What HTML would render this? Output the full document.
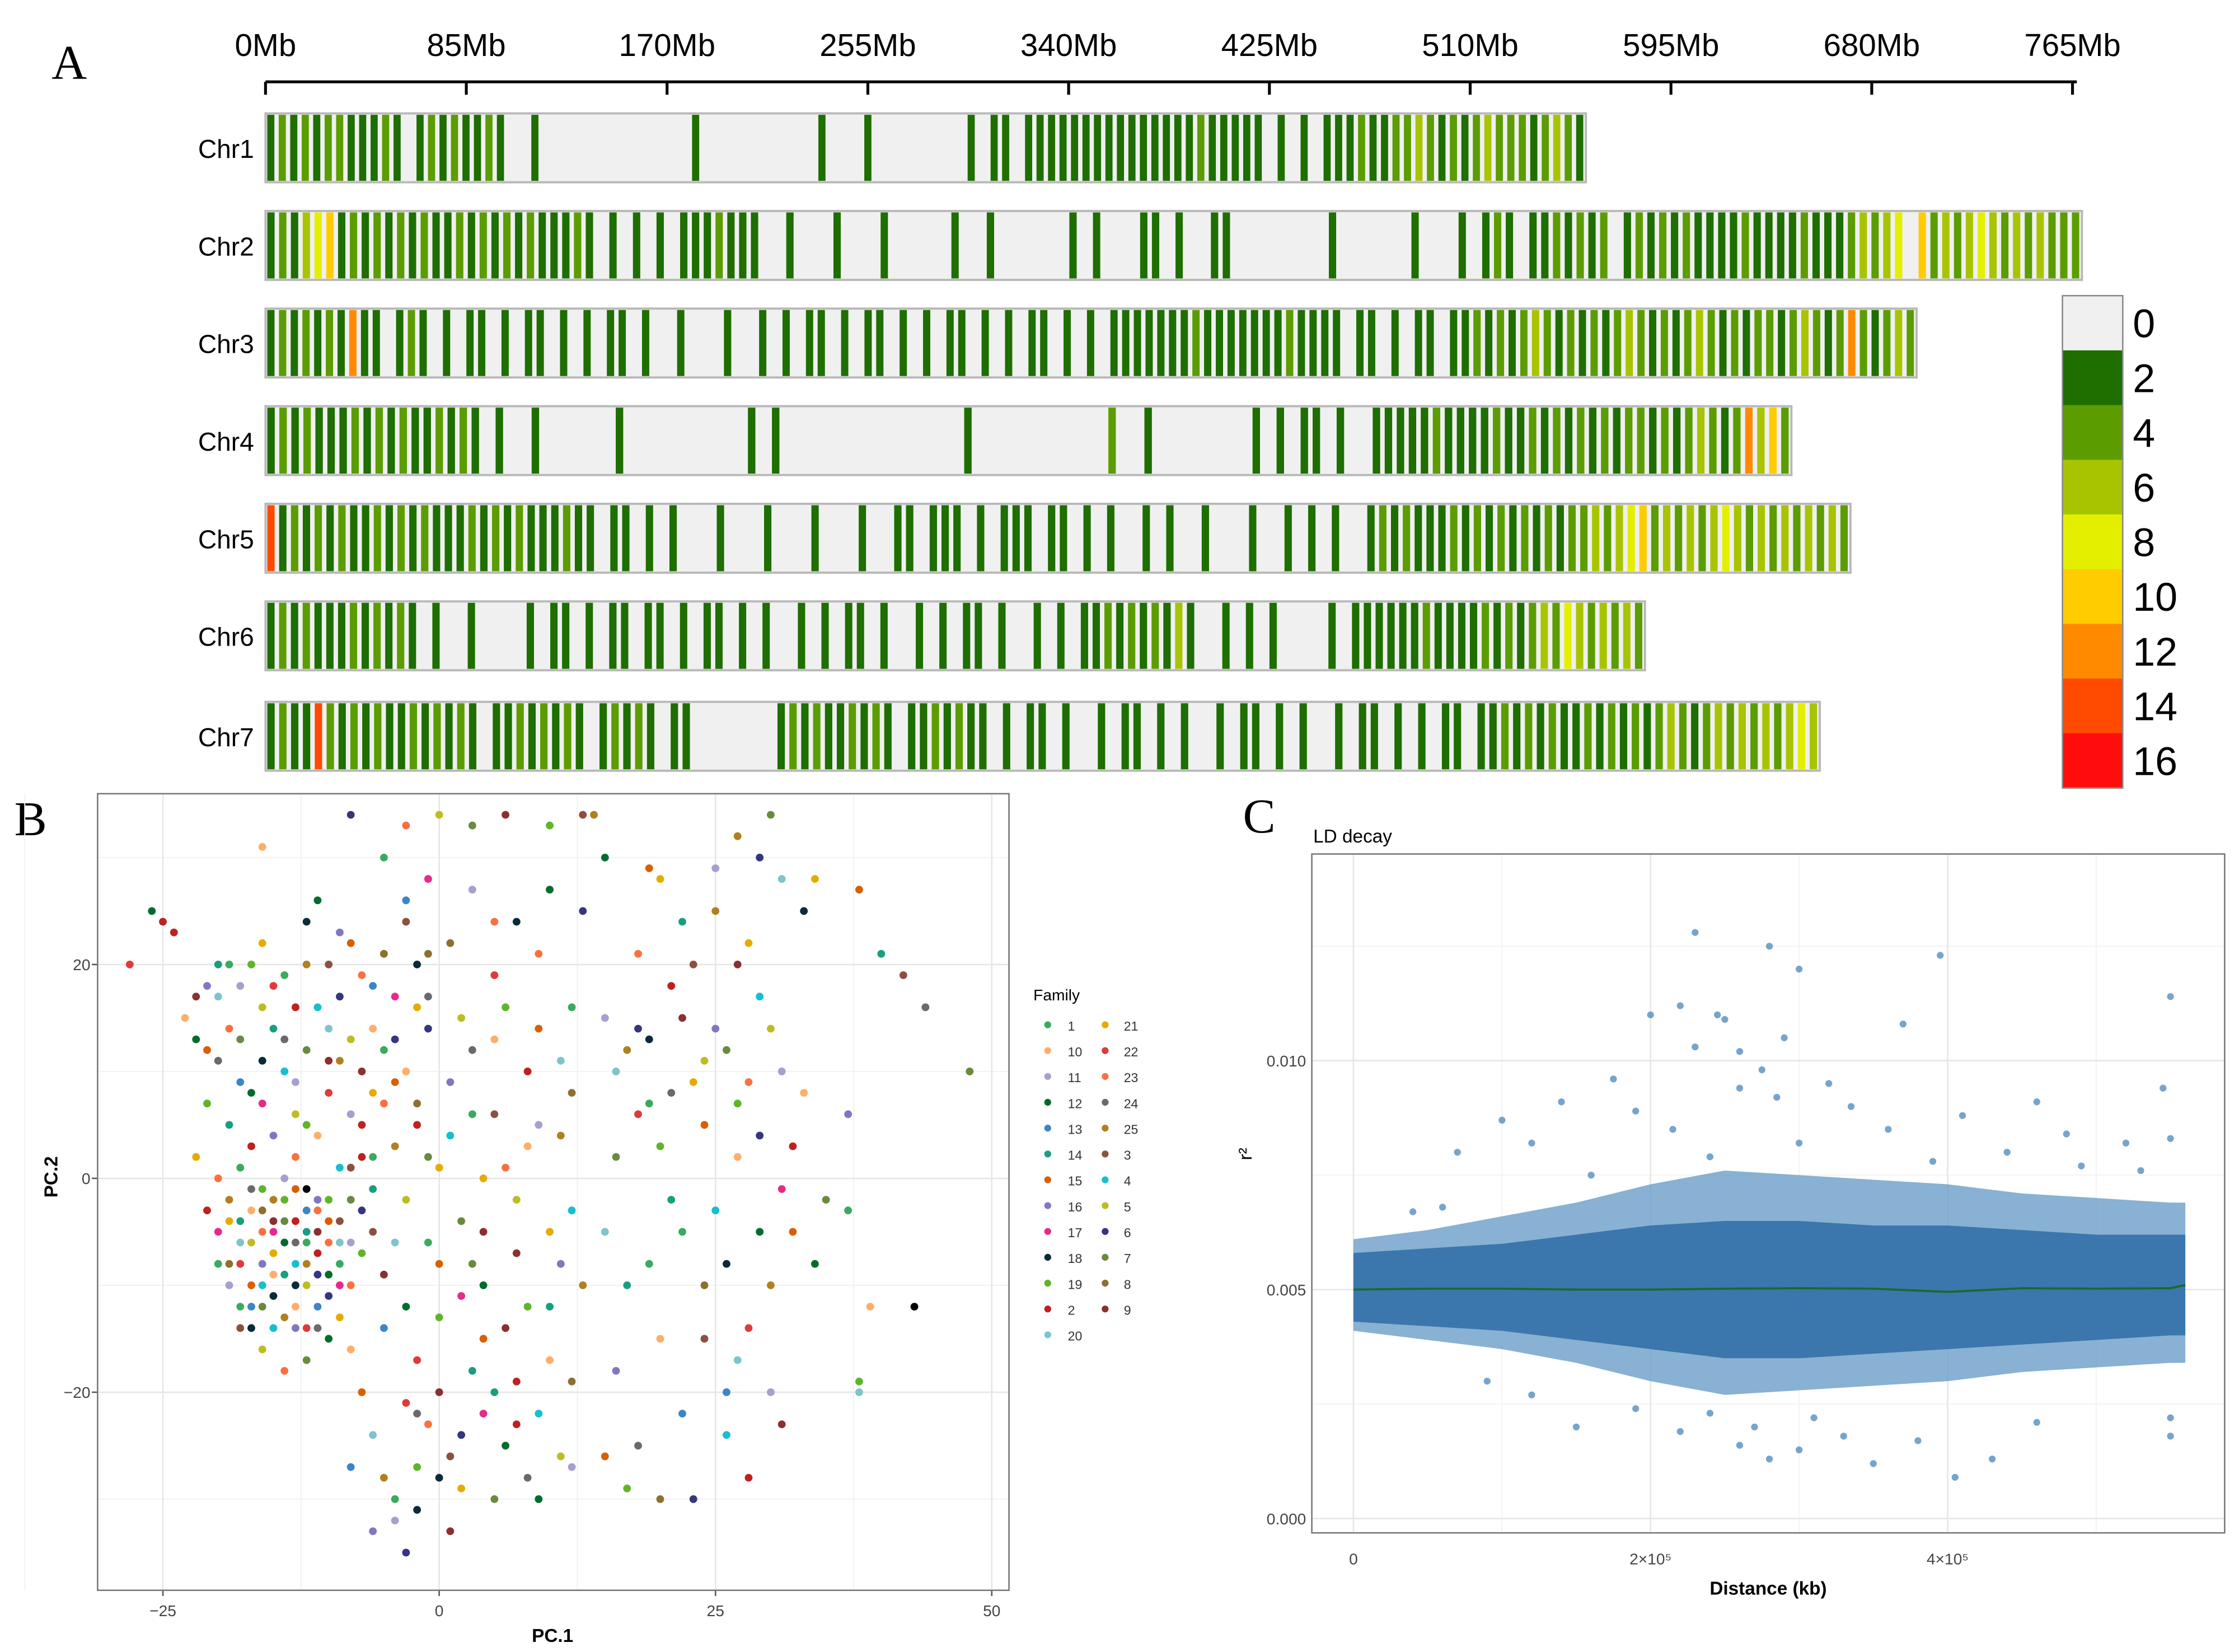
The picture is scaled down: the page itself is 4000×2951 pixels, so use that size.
<!DOCTYPE html>
<html><head><meta charset="utf-8"><style>html,body{margin:0;padding:0;background:#fff}svg{display:block}</style></head>
<body>
<svg id="fig" xmlns="http://www.w3.org/2000/svg" width="4000" height="2951" viewBox="0 0 1560 1151" preserveAspectRatio="none" font-family="Liberation Sans, sans-serif">
<rect width="1560" height="1151" fill="#fff"/>
<g id="pa"></g>
<g id="pb"></g>
<g id="pc"></g>
</svg>
<script>
// ---------- Panel A data ----------
const chrNames=["Chr1","Chr2","Chr3","Chr4","Chr5","Chr6","Chr7"];
const chrLengthMb=[559,769,699,646,671,584,658];
const chrDensity=[
"1212122111210121211210010000000000000100000000001000100000000101101111111111111112111110101011121122321212322212321",
"1213451212121211212121211121010101011121110010001000100000100100000010100011010011000000001000000100010121011212120121212111121111211123234052323432323222",
"121212161101210101101011010101101001000100101011010110101011010101101010111111121111111211110110101101121212321212123212123212122123212621232",
"1212111212121121210100100000010000000000101000000000000000100000000000200100000000101011010011111211112112121212122121232126352",
"71212121121212111212121112110110101000100010001000100110111010111011010100101001000100101010012121112121212121223234523232343232323232",
"121211121212101001000010110101101101011010100101011010010101101001010112121213100101010000101111112111121212324323232",
"12117212121121212101121212101212101100000001212112121011212110101101001011010100101101010010110101011011212121121212123212323232343"
];
const chrStart=[79,147,215,283,351,419,489];
const axisTicks=[0,85,170,255,340,425,510,595,680,765];
const legendLevels=["0","2","4","6","8","10","12","14","16"];
const levelColors=["#f0f0f0","#1e6e00","#5b9c00","#a8c400","#e4ef00","#ffcc00","#ff8a00","#ff4a00","#ff0d0d"];
// ---------- Panel B data ----------
const families=["1","10","11","12","13","14","15","16","17","18","19","2","20","21","22","23","24","25","3","4","5","6","7","8","9"];
const famColors=["#3aaa5e","#fdae6b","#a89fd0","#006d2c","#3d85c6","#1a9e80","#d95f02","#7f78c0","#e7298a","#0b2a3a","#5fb52a","#c02020","#7fc4cc","#e6ab02","#e03a3a","#fc7040","#6a6a6a","#b08020","#8c5040","#17becf","#bcbd22","#353580","#6a8a40","#8c7030","#8a3030"];
const pcaPoints="-28,20,14;-25,24,11;-26,25,3;-24,23,11;48,10,22;44,16,16;42,19,18;40,21,5;43,-12,25;39,-12,1;38,-19,10;38,-20,12;37,-3,0;37,6,7;34,28,13;33,25,9;38,27,6;-16,31,1;-8,34,21;-5,30,0;-3,33,15;0,34,20;3,33,22;6,34,24;10,33,10;13,34,18;14,34,17;15,30,3;19,29,6;25,29,2;27,32,17;29,30,21;30,34,22;31,28,12;-21,18,7;-20,17,12;-22,17,24;-19,14,15;-18,18,2;-17,20,10;-16,22,13;-15,14,5;-14,19,0;-13,16,11;-12,24,9;-11,26,3;-10,20,18;-9,17,21;-8,22,6;-7,19,15;-6,14,1;-5,21,23;-20,11,16;-18,9,4;-16,7,8;-14,10,19;-13,6,20;-12,12,22;-10,8,14;-9,11,17;-8,6,2;-7,10,24;-6,8,13;-5,12,0;-21,7,10;-19,5,5;-17,3,11;-15,4,7;-13,2,15;-11,4,1;-22,13,3;-16,16,20;-10,14,12;-4,17,8;-3,24,18;-2,20,9;-1,14,21;-4,9,6;-2,7,23;-22,2,13;-20,0,15;-19,-2,17;-18,1,0;-17,-3,1;-16,-5,15;-15,-2,17;-14,-4,22;-13,-6,16;-12,-3,4;-11,-5,24;-10,-2,10;-9,-4,18;-8,-6,2;-16,-8,7;-15,-7,13;-14,-9,5;-13,-8,19;-12,-10,20;-11,-7,11;-10,-9,3;-9,-8,0;-8,-10,15;-7,-3,21;-17,-10,6;-16,-12,22;-15,-11,9;-14,-13,17;-13,-12,1;-12,-14,14;-18,-6,12;-19,-8,23;-20,-5,8;-17,-1,16;-14,0,2;-12,-1,25;-11,-12,4;-9,-13,13;-7,-7,10;-6,-5,18;-6,-1,5;-5,-9,24;-13,-4,11;-11,-2,7;-15,-14,19;-10,-15,3;-18,-12,0;-16,-16,20;-14,-18,15;-12,-17,22;-8,-16,1;-17,-14,9;-7,-20,6;-6,-24,12;-5,-28,17;-4,-32,2;-3,-35,21;-4,-30,0;-2,-27,10;-1,-23,15;0,-20,24;1,-26,18;2,-29,13;3,-18,5;4,-22,8;5,-30,22;6,-25,3;7,-19,11;8,-28,16;9,-22,19;10,-17,1;11,-26,20;12,-19,23;-6,-33,7;-3,-21,14;-8,-27,4;-2,-31,9;1,-33,24;12,-27,2;4,-15,6;-4,3,17;-3,-2,20;-2,5,11;-1,-6,0;0,1,13;1,9,7;2,-4,22;3,12,16;4,-10,3;5,6,18;6,16,10;7,-7,24;8,3,1;9,21,15;10,-12,5;11,11,12;12,-3,19;13,25,21;-3,26,4;-1,28,8;1,22,23;3,27,2;5,19,14;7,24,9;9,14,6;11,4,17;12,16,0;0,-13,10;2,15,20;4,0,13;6,-14,24;8,10,11;10,27,3;-1,17,16;3,-8,22;5,24,15;15,15,2;16,10,12;17,12,17;18,14,21;19,7,0;20,3,10;21,-2,5;22,15,24;23,9,13;24,5,6;25,-3,19;26,12,22;27,2,1;28,9,15;29,-5,3;30,14,20;31,-1,8;32,3,11;16,-18,7;18,-25,16;20,-30,23;22,-22,4;24,-15,18;26,-8,9;28,-14,14;30,-20,2;31,-23,24;27,-17,12;19,-8,0;23,-30,21;17,-29,10;15,-26,6;25,25,17;22,24,5;20,28,13;18,21,15;27,20,24;29,17,19;33,8,1;35,-2,22;34,-8,3;21,18,11;24,11,20;-18,-4,5;-15,-5,8;-12,-6,0;-10,-6,15;-13,-1,6;-16,-1,10;-9,1,19;-7,2,11;-11,-9,21;-19,-10,2;-18,-8,14;-17,-6,20;-16,-3,23;-15,-9,1;-14,-6,3;-13,-10,9;-12,-8,17;-11,-3,15;-10,-4,6;-9,-6,12;-8,-2,22;-14,-2,10;-13,-14,7;-16,-10,19;-17,-12,4;-19,-4,13;-20,-8,0;-21,-3,11;-11,-14,16;-10,-11,21;-9,-10,8;-12,-5,5;-15,-4,24;-18,-14,18;-23,15,1;-21,12,6;-19,20,0;-18,13,22;-17,8,3;-15,18,14;-14,13,16;-13,9,2;-12,5,10;-11,16,19;-10,11,24;-9,23,7;-8,13,20;-7,5,11;-6,18,4;-5,7,15;-4,13,21;-3,10,1;-2,16,13;-1,21,23;-20,20,5;-16,11,9;-12,20,17;-8,1,18;-6,2,0;-4,-6,12;-3,-12,3;-2,-17,14;-1,2,22;0,-8,6;1,4,19;2,-11,8;3,6,0;4,-5,24;5,13,1;6,1,15;7,-2,20;8,-12,10;9,5,2;10,-5,13;11,-8,7;12,8,23;13,-10,17;-5,-14,4;-2,-22,16;0,-28,9;2,-24,21;5,-20,5;7,-23,11;9,-30,3;15,-5,12;16,2,22;17,-10,5;18,6,14;19,13,9;20,-15,1;21,8,16;22,-5,0;23,20,18;24,-10,23;25,14,7;26,-20,4;27,7,10;28,22,13;29,4,21;30,-10,17;31,10,2;32,-5,6;26,-24,19;28,-28,11";
const pbXTicks=[-25,0,25,50];
const pbYTicks=[-20,0,20];
// ---------- Panel C data ----------
const ldDist=[0,0.5,1,1.5,2,2.5,3,3.5,4,4.5,5,5.5,5.6];
const ldOuterHi=[0.0061,0.0063,0.0066,0.0069,0.0073,0.0076,0.0075,0.0074,0.0073,0.0071,0.0070,0.0069,0.0069];
const ldOuterLo=[0.0041,0.0039,0.0037,0.0034,0.0030,0.0027,0.0028,0.0029,0.0030,0.0032,0.0033,0.0034,0.0034];
const ldInnerHi=[0.0058,0.0059,0.0060,0.0062,0.0064,0.0065,0.0065,0.0064,0.0064,0.0063,0.0062,0.0062,0.0062];
const ldInnerLo=[0.0043,0.0042,0.0041,0.0039,0.0037,0.0035,0.0035,0.0036,0.0037,0.0038,0.0039,0.0040,0.0040];
const ldFit=[0.0050,0.00502,0.00502,0.0050,0.0050,0.00502,0.00503,0.00502,0.00495,0.00503,0.00502,0.00503,0.0051];
const ldOutX=[2.3,2.8,3.0,3.95,5.5,2.0,2.2,2.5,2.45,3.7,2.3,2.6,2.9,2.75,1.75,1.4,3.2,3.35,4.6,5.45,1.0,1.9,2.15,4.1,2.6,2.85,0.7,1.2,3.6,4.8,5.2,5.5,3.0,2.4,4.4,2.2,2.6,2.8,3.0,3.3,3.5,4.05,4.3,2.7,3.8,1.5,5.5,5.5,4.6,3.1,1.9,2.4,0.9,1.2,0.4,0.6,1.6,3.9,4.9,5.3];
const ldOutY=[0.0128,0.0125,0.0120,0.0123,0.0114,0.0110,0.0112,0.0109,0.0110,0.0108,0.0103,0.0102,0.0105,0.0098,0.0096,0.0091,0.0095,0.0090,0.0091,0.0094,0.0087,0.0089,0.0085,0.0088,0.0094,0.0092,0.0080,0.0082,0.0085,0.0084,0.0082,0.0083,0.0082,0.0079,0.0080,0.0019,0.0016,0.0013,0.0015,0.0018,0.0012,0.0009,0.0013,0.0020,0.0017,0.0020,0.0018,0.0022,0.0021,0.0022,0.0024,0.0023,0.0030,0.0027,0.0067,0.0068,0.0075,0.0078,0.0077,0.0076];

const NS="http://www.w3.org/2000/svg";
function mk(parent,tag,attrs,text){const e=document.createElementNS(NS,tag);for(const k in attrs)e.setAttribute(k,attrs[k]);if(text!==undefined)e.textContent=text;parent.appendChild(e);return e;}

// ===== Panel A =====
(function(){
const g=document.getElementById('pa');
const x0=185,pxPerMb=(1444-185)/765;
const mx=v=>x0+v*pxPerMb;
let t=mk(g,'text',{x:36,y:55,'font-family':'Liberation Serif, serif','font-size':34},'A');


let ax=mk(g,'line',{x1:185,y1:57,x2:1447,y2:57,stroke:'#000','stroke-width':2});


axisTicks.forEach(v=>{
 const tk=mk(g,'line',{x1:mx(v),y1:57,x2:mx(v),y2:66,stroke:'#000','stroke-width':2});
 
 
 const lb=mk(g,'text',{x:mx(v),y:39,'font-size':22,'text-anchor':'middle'},v+'Mb');
 
 
});
chrDensity.forEach((s,ci)=>{
 const y=chrStart[ci],h=48,len=chrLengthMb[ci]*pxPerMb,bw=len/s.length;
 const row=mk(g,'g',{});
 
 
 const bg=mk(row,'rect',{x:x0,y:y,width:len,height:h,fill:'#f0f0f0',stroke:'#b8b8b8','stroke-width':1.5});
 
 
 for(let i=0;i<s.length;i++){
  const lv=+s[i]; if(!lv) continue;
  const r=mk(row,'rect',{x:x0+i*bw+bw*0.15,y:y+1,width:bw*0.62,height:h-2,fill:levelColors[lv]});
  
  
 }
 const lb=mk(row,'text',{x:177,y:y+31,'font-size':18,'text-anchor':'end'},chrNames[ci]);
 
 
});
const lg=mk(g,'g',{});


const ly=206,lh=343/9;
levelColors.forEach((c,i)=>{
 const r=mk(lg,'rect',{x:1437,y:ly+i*lh,width:42,height:lh+0.5,fill:c});
 
 
 const tx=mk(lg,'text',{x:1486,y:ly+i*lh+lh/2+10,'font-size':28},legendLevels[i]);
 
 
});
mk(lg,'rect',{x:1437,y:ly,width:42,height:343,fill:'none',stroke:'#888','stroke-width':1});
})();

// ===== Panel B =====
(function(){
const g=document.getElementById('pb');
const L=68,R=703,T=553,B=1108;
const sx=v=>306+v*(691-306)/50;
const sy=v=>821-v*(821-672)/20;
let t=mk(g,'text',{x:10,y:582,'font-family':'Liberation Serif, serif','font-size':34},'B');


[-37.5,-12.5,12.5,37.5].forEach(v=>mk(g,'line',{x1:sx(v),y1:T,x2:sx(v),y2:B,stroke:'#f2f2f2','stroke-width':0.8}));
[-30,-10,10,30].forEach(v=>mk(g,'line',{x1:L,y1:sy(v),x2:R,y2:sy(v),stroke:'#f2f2f2','stroke-width':0.8}));
pbXTicks.forEach(v=>{
 const gl=mk(g,'line',{x1:sx(v),y1:T,x2:sx(v),y2:B,stroke:'#e6e6e6','stroke-width':1});
 
 
 mk(g,'line',{x1:sx(v),y1:B,x2:sx(v),y2:B+4,stroke:'#555'});
 const lb=mk(g,'text',{x:sx(v),y:B+18,'font-size':11,'text-anchor':'middle',fill:'#444'},v<0?'\u2212'+(-v):v);
 
 
});
pbYTicks.forEach(v=>{
 const gl=mk(g,'line',{x1:L,y1:sy(v),x2:R,y2:sy(v),stroke:'#e6e6e6','stroke-width':1});
 
 
 mk(g,'line',{x1:L-4,y1:sy(v),x2:L,y2:sy(v),stroke:'#555'});
 const lb=mk(g,'text',{x:L-5,y:sy(v)+4,'font-size':11,'text-anchor':'end',fill:'#444'},v<0?'\u2212'+(-v):v);
 
 
});
const fr=mk(g,'rect',{x:L,y:T,width:R-L,height:B-T,fill:'none',stroke:'#777','stroke-width':1});


pcaPoints.split(';').forEach(p=>{
 const [x,y,f]=p.split(',').map(Number);
 const c=mk(g,'circle',{cx:sx(x),cy:sy(y),r:2.7,fill:famColors[f]});
 
 
});
let xt=mk(g,'text',{x:385,y:1144,'font-size':13,'font-weight':'bold','text-anchor':'middle'},'PC.1');


let yt=mk(g,'text',{x:40,y:820,'font-size':13,'font-weight':'bold','text-anchor':'middle',transform:'rotate(-90 40 820)'},'PC.2');


const lg=mk(g,'g',{});


let lt=mk(lg,'text',{x:720,y:697,'font-size':11},'Family');


families.forEach((f,i)=>{
 const col=i<13?0:1,row=i<13?i:i-13;
 const e=mk(lg,'g',{});
 
 
 mk(e,'circle',{cx:730+col*40,cy:714+row*18,r:2.4,fill:famColors[i]});
 mk(e,'text',{x:744+col*39,y:718+row*18,'font-size':9,fill:'#333'},f);
});
})();

// ===== Panel C =====
(function(){
const g=document.getElementById('pc');
const L=914,R=1550,T=595,B=1068;
const sx=v=>943+v*(1357-943)/4;
const sy=v=>1058-v*(1058-739)/0.010;
let t=mk(g,'text',{x:866,y:580,'font-family':'Liberation Serif, serif','font-size':34},'C');


let tt=mk(g,'text',{x:915,y:587,'font-size':13},'LD decay');


[1,3,5].forEach(v=>mk(g,'line',{x1:sx(v),y1:T,x2:sx(v),y2:B,stroke:'#f3f3f3','stroke-width':0.8}));
[0.0025,0.0075,0.0125].forEach(v=>mk(g,'line',{x1:L,y1:sy(v),x2:R,y2:sy(v),stroke:'#f3f3f3','stroke-width':0.8}));
const xl=[['0',0],['2\u00d710\u2075',2],['4\u00d710\u2075',4]];
xl.forEach(([s,v])=>{
 const gl=mk(g,'line',{x1:sx(v),y1:T,x2:sx(v),y2:B,stroke:'#e6e6e6'});
 
 
 const lb=mk(g,'text',{x:sx(v),y:B+22,'font-size':11,'text-anchor':'middle',fill:'#444'},s);
 
 
});
[0,0.005,0.010].forEach(v=>{
 const gl=mk(g,'line',{x1:L,y1:sy(v),x2:R,y2:sy(v),stroke:'#e6e6e6'});
 
 
 const lb=mk(g,'text',{x:L-4,y:sy(v)+4,'font-size':11,'text-anchor':'end',fill:'#444'},v.toFixed(3));
 
 
});
const fr=mk(g,'rect',{x:L,y:T,width:R-L,height:B-T,fill:'none',stroke:'#777'});


function band(hi,lo){let d='';ldDist.forEach((x,i)=>d+=(i?'L':'M')+sx(x)+','+sy(hi[i]));for(let i=ldDist.length-1;i>=0;i--)d+='L'+sx(ldDist[i])+','+sy(lo[i]);return d+'Z';}
let ob=mk(g,'path',{d:band(ldOuterHi,ldOuterLo),fill:'#6a9dc8','fill-opacity':0.8});


let ib=mk(g,'path',{d:band(ldInnerHi,ldInnerLo),fill:'#3b77ad'});


ldOutX.forEach((x,i)=>{
 const c=mk(g,'circle',{cx:sx(x),cy:sy(ldOutY[i]),r:2.4,fill:'#4a86ba','fill-opacity':0.75});
 
 
});
let d='';ldDist.forEach((x,i)=>d+=(i?'L':'M')+sx(x)+','+sy(ldFit[i]));
let fl=mk(g,'path',{d:d,fill:'none',stroke:'#1a6b2a','stroke-width':1.5});


let xt=mk(g,'text',{x:1232,y:1111,'font-size':13,'font-weight':'bold','text-anchor':'middle'},'Distance (kb)');


let yt=mk(g,'text',{x:872,y:804,'font-size':13,'text-anchor':'middle',transform:'rotate(-90 872 804)'},'r\u00b2');


})();
</script>
</body></html>
